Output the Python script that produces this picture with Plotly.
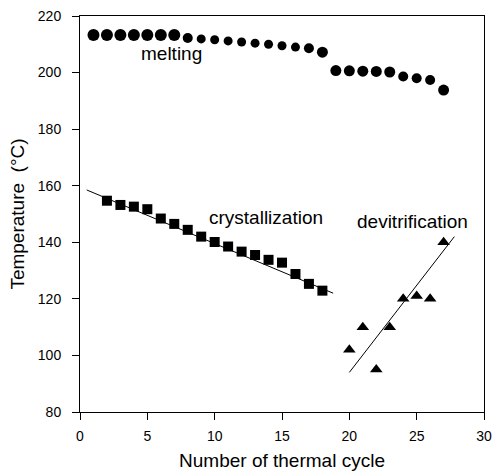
import plotly.graph_objects as go

melt_x = list(range(1, 28))
melt_y = [213.3, 213.3, 213.3, 213.3, 213.3, 213.3, 213.3, 212.2, 211.9, 211.6, 211.2, 210.8,
          210.4, 210.0, 209.5, 209.0, 208.6, 207.2, 200.7, 200.6, 200.5, 200.4, 200.2, 198.6,
          198.0, 197.4, 193.8]

cryst_x = list(range(2, 19))
cryst_y = [154.7, 153.2, 152.6, 151.7, 148.4, 146.5, 144.4, 142.0, 140.1, 138.5, 136.7,
           135.5, 133.8, 132.8, 128.8, 125.3, 122.9]
cryst_fit_x = [0.5, 18.8]
cryst_fit_y = [158.5, 122.0]

devit_x = [20, 21, 22, 23, 24, 25, 26, 27]
devit_y = [102.0, 110.0, 95.0, 110.0, 120.0, 121.0, 120.0, 140.0]
devit_fit_x = [20.0, 27.8]
devit_fit_y = [94.0, 142.0]

labels = [("melting", 6.8, 206.6), ("crystallization", 13.8, 148.6), ("devitrification", 24.7, 147.2)]

# marker styling (pixel sizes)
melt_sizes = [12] * 7 + [10] + [9] * 8 + [10, 11] + [11] * 5 + [10, 10, 10, 11]

FONT = "Liberation Sans, Arial, Helvetica, sans-serif"

fig = go.Figure()
fig.add_trace(go.Scatter(x=cryst_fit_x, y=cryst_fit_y, mode="lines",
                         line=dict(color="black", width=1), showlegend=False))
fig.add_trace(go.Scatter(x=devit_fit_x, y=devit_fit_y, mode="lines",
                         line=dict(color="black", width=1), showlegend=False))
fig.add_trace(go.Scatter(x=melt_x, y=melt_y, mode="markers",
                         marker=dict(symbol="circle", size=melt_sizes, color="black", opacity=1,
                                     line=dict(width=0)),
                         showlegend=False))
fig.add_trace(go.Scatter(x=cryst_x, y=cryst_y, mode="markers",
                         marker=dict(symbol="square", size=10, color="black"), showlegend=False))
fig.add_trace(go.Scatter(x=devit_x, y=devit_y, mode="markers",
                         marker=dict(symbol="triangle-up", size=11, color="black"), showlegend=False))

for t, x, y in labels:
    fig.add_annotation(x=x, y=y, text=t, showarrow=False,
                       font=dict(family=FONT, size=19, color="black"))

axis_common = dict(showgrid=False, zeroline=False, showline=True, linecolor="black",
                   linewidth=1, mirror=True, ticks="outside", ticklen=7, tickcolor="black",
                   automargin=False,
                   tickfont=dict(family=FONT, size=14, color="black"))

fig.update_xaxes(range=[0, 30], dtick=5, tick0=0, ticklabelstandoff=4,
                 title=dict(text="Number of thermal cycle", standoff=10,
                            font=dict(family=FONT, size=19, color="black")),
                 **axis_common)
fig.update_yaxes(range=[80, 220], dtick=20, tick0=80, ticklabelstandoff=8,
                 title=dict(text="Temperature  (°C)", standoff=8,
                            font=dict(family=FONT, size=19, color="black")),
                 **axis_common)

fig.update_layout(width=494, height=475, autosize=False, margin=dict(l=80, r=10, t=16, b=63),
                  plot_bgcolor="white", paper_bgcolor="white")

fig.write_html("out.html")

with open("out.html", "r", encoding="utf-8") as f:
    html = f.read()
html = html.replace("<head>", "<head><style>html,body{margin:0;padding:0;overflow:hidden;}</style>", 1)
with open("out.html", "w", encoding="utf-8") as f:
    f.write(html)
